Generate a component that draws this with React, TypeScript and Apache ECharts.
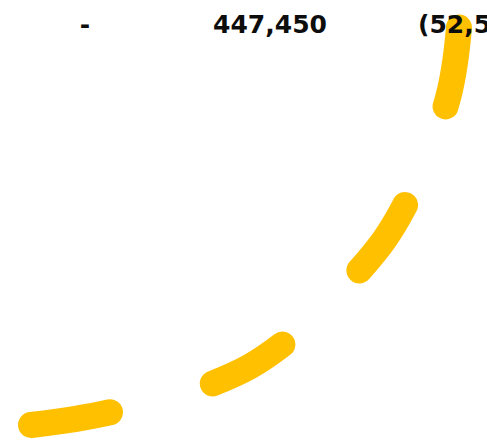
import React, { useEffect, useRef } from "react";
import * as echarts from "echarts";

// Header values shown along the top
const headerLabels = ["-", "447,450", "(52,500)"];
// Curve samples (x, y) in chart units
const curveX = [31, 111, 214, 283, 358, 404, 446, 459];
const curveY = [16, 29, 58, 97, 169, 234, 336, 414];

export default function App() {
  const ref = useRef<HTMLDivElement>(null);
  useEffect(() => {
    if (!ref.current) return;
    const chart = echarts.init(ref.current, undefined, { renderer: "svg" });
    const data = curveX.map((x, i) => [x, curveY[i]]);
    const labelX = [85, 270, 418];
    const labelAlign = ["center", "center", "left"];
    chart.setOption({
      animation: false,
      grid: { left: 0, right: 0, top: 0, bottom: 0 },
      xAxis: { type: "value", min: 0, max: 487, show: false },
      yAxis: { type: "value", min: 0, max: 441, show: false },
      series: [
        {
          type: "line",
          data,
          smooth: 0.4,
          symbol: "none",
          clip: false,
          z: 1,
          lineStyle: {
            width: 26,
            color: "#FFC000",
            type: [80, 107],
            cap: "round",
            join: "round",
          },
        },
      ],
      graphic: headerLabels.map((t, i) => ({
        type: "text",
        x: labelX[i],
        y: 24,
        z: 100,
        style: {
          text: t,
          fill: "#0d0d0d",
          font: "bold 25px 'DejaVu Sans', sans-serif",
          textAlign: labelAlign[i],
          textVerticalAlign: "middle",
        },
      })),
    });
    return () => chart.dispose();
  }, []);
  return (
    <div
      ref={ref}
      style={{ position: "fixed", left: 0, top: 0, width: 487, height: 441, background: "#fff" }}
    />
  );
}
